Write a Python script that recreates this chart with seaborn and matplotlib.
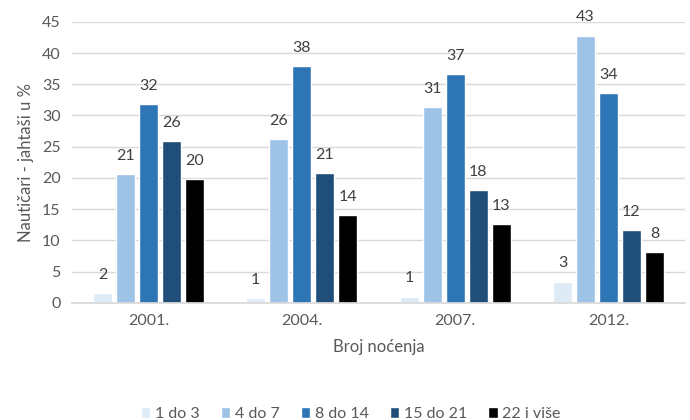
import matplotlib
matplotlib.use("Agg")
import matplotlib.pyplot as plt
import seaborn as sns
import pandas as pd

years = ["2001.", "2004.", "2007.", "2012."]
groups = ["1 do 3", "4 do 7", "8 do 14", "15 do 21", "22 i više"]
v_1_3 = [1.6, 0.7, 1.0, 3.4]
v_4_7 = [20.6, 26.2, 31.3, 42.8]
v_8_14 = [31.9, 37.9, 36.6, 33.6]
v_15_21 = [25.9, 20.8, 18.0, 11.6]
v_22 = [19.8, 14.0, 12.6, 8.2]
colors = ["#DEEBF7", "#9DC3E6", "#2E75B6", "#1F4E79", "#000000"]

series = [v_1_3, v_4_7, v_8_14, v_15_21, v_22]
rows = []
for g, vals in zip(groups, series):
    for y, v in zip(years, vals):
        rows.append({"godina": y, "noćenja": g, "udio": v})
df = pd.DataFrame(rows)

sns.set_theme(style="white")
plt.rcParams["font.family"] = ["Lato", "DejaVu Sans"]

fig = plt.figure(figsize=(6.9, 4.2), dpi=100)
ax = fig.add_axes([0.104, 0.279, 0.889, 0.669])

sns.barplot(data=df, x="godina", y="udio", hue="noćenja", order=years,
            hue_order=groups, palette=colors, saturation=1, width=0.75,
            gap=0.18, errorbar=None, ax=ax, legend=True)

for cont in ax.containers:
    ax.bar_label(cont, fmt="{:.0f}", padding=8, fontsize=11.5, color="#404040")

ax.set_ylim(0, 45)
ax.set_yticks(range(0, 46, 5))
ax.yaxis.grid(True, color="#D9D9D9", linewidth=1)
ax.set_axisbelow(True)
for s in ["top", "right", "left"]:
    ax.spines[s].set_visible(False)
ax.spines["bottom"].set_color("#D9D9D9")
ax.tick_params(axis="both", length=0, labelsize=11.5, labelcolor="#595959", pad=8)
ax.set_xlabel("Broj noćenja", fontsize=12, color="#595959", labelpad=8)
ax.set_ylabel("Nautičari - jahtaši u %", fontsize=12, color="#595959", labelpad=6)

leg = ax.legend(loc="upper center", bbox_to_anchor=(0.455, -0.32), ncol=5,
                frameon=False, fontsize=11.5, handlelength=0.6, handleheight=0.6,
                handletextpad=0.3, columnspacing=1.3, title=None)
for t in leg.get_texts():
    t.set_color("#595959")

fig.savefig("out.png", dpi=100)
